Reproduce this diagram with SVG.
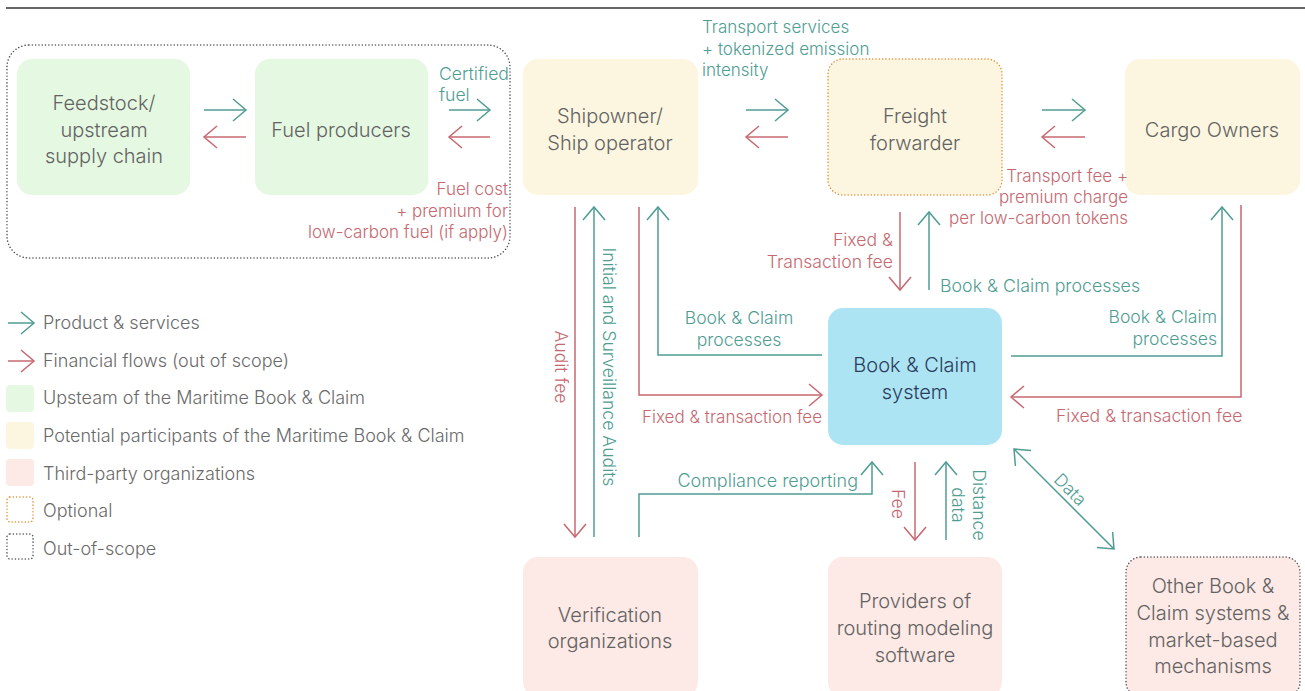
<svg xmlns="http://www.w3.org/2000/svg" width="1305" height="691" viewBox="0 0 1305 691">
<defs>
<style>
text{font-family:"Inter Light",Inter,"Noto Sans","Liberation Sans",sans-serif;font-weight:300}
.n{font-size:20px;fill:#636363;text-anchor:middle}
.nb{font-size:20px;fill:#2b3d5c;text-anchor:middle;font-weight:400}
.lt{font-size:17.6px;fill:#4f9d92}
.lr{font-size:17.6px;fill:#c66870}
.s17{font-size:17px}
.lg{font-size:18px;fill:#6a6a6a}
.g{fill:#e5f8e2}
.y{fill:#fcf6e0}
.p{fill:#fde9e5}
.b{fill:#ade4f4}
.ct{fill:none;stroke:#4f9d92;stroke-width:1.5}
.cr{fill:none;stroke:#c66870;stroke-width:1.5}
.ot{marker-end:url(#ahT)}
.or{marker-end:url(#ahR)}
.dot{fill:none;stroke:#555;stroke-width:1.5;stroke-dasharray:0.1 3.2;stroke-linecap:round}
.doto{fill:none;stroke:#e0913a;stroke-width:1.5;stroke-dasharray:0.1 3.2;stroke-linecap:round}
</style>
<marker id="ahT" markerUnits="userSpaceOnUse" markerWidth="16" markerHeight="26" refX="14" refY="12" orient="auto-start-reverse" viewBox="0 0 16 26"><path d="M1,1 L14,12 L1,23" fill="none" stroke="#4f9d92" stroke-width="1.5"/></marker>
<marker id="ahR" markerUnits="userSpaceOnUse" markerWidth="16" markerHeight="26" refX="14" refY="12" orient="auto-start-reverse" viewBox="0 0 16 26"><path d="M1,1 L14,12 L1,23" fill="none" stroke="#c66870" stroke-width="1.5"/></marker>
</defs>
<rect width="1305" height="691" fill="#fff"/>
<line x1="6" y1="8" x2="1305" y2="8" stroke="#333" stroke-width="1.5"/>
<rect x="7" y="45" width="503" height="213" rx="22" class="dot"/>

<g id="feedstock"><rect x="17" y="59" width="173" height="136" rx="15" class="g"/><text class="n"><tspan x="104" y="110">Feedstock/</tspan><tspan x="104" y="137">upstream</tspan><tspan x="104" y="163">supply chain</tspan></text></g>
<g id="fuel-producers"><rect x="255" y="59" width="173" height="136" rx="15" class="g"/><text class="n" x="341" y="137">Fuel producers</text></g>
<g id="shipowner"><rect x="523" y="59" width="175" height="136" rx="15" class="y"/><text class="n"><tspan x="610" y="123">Shipowner/</tspan><tspan x="610" y="150">Ship operator</tspan></text></g>
<g id="freight-forwarder"><rect x="828" y="59" width="174" height="136" rx="15" class="y"/><rect x="828" y="59" width="174" height="136" rx="15" class="doto"/><text class="n"><tspan x="915" y="123">Freight</tspan><tspan x="915" y="150">forwarder</tspan></text></g>
<g id="cargo-owners"><rect x="1125" y="59" width="175" height="136" rx="15" class="y"/><text class="n" x="1212" y="137">Cargo Owners</text></g>
<g id="book-claim"><rect x="828" y="308" width="174" height="137" rx="15" class="b"/><text class="nb"><tspan x="915" y="372">Book &amp; Claim</tspan><tspan x="915" y="399">system</tspan></text></g>
<g id="verification"><rect x="523" y="557" width="175" height="140" rx="15" class="p"/><text class="n"><tspan x="610" y="622">Verification</tspan><tspan x="610" y="648">organizations</tspan></text></g>
<g id="routing-providers"><rect x="828" y="557" width="174" height="140" rx="15" class="p"/><text class="n"><tspan x="915" y="608">Providers of</tspan><tspan x="915" y="635">routing modeling</tspan><tspan x="915" y="662">software</tspan></text></g>
<g id="other-systems"><rect x="1126" y="557" width="174" height="140" rx="15" class="p"/><rect x="1126" y="557" width="174" height="140" rx="15" class="dot"/><text class="n"><tspan x="1213" y="593">Other Book &amp;</tspan><tspan x="1213" y="620">Claim systems &amp;</tspan><tspan x="1213" y="647">market-based</tspan><tspan x="1213" y="673">mechanisms</tspan></text></g>

<g id="connectors">
<path class="ct ot" d="M204,110 H246"/>
<path class="cr or" d="M246,137 H204"/>
<path class="ct ot" d="M449,110 H490"/>
<path class="cr or" d="M490,137 H449"/>
<path class="ct ot" d="M746,110 H788"/>
<path class="cr or" d="M788,137 H746"/>
<path class="ct ot" d="M1042,110 H1085"/>
<path class="cr or" d="M1085,137 H1042"/>
<path class="cr or" d="M575,207 V537"/>
<path class="ct ot" d="M594,537 V207"/>
<path class="cr or" d="M639,207 V395 H822"/>
<path class="ct ot" d="M822,355 H658 V207"/>
<path class="cr or" d="M900,212 V290"/>
<path class="ct ot" d="M929,290 V212"/>
<path class="ct ot" d="M1011,356 H1222 V207"/>
<path class="cr or" d="M1241,205 V397 H1011"/>
<path class="ct ot" d="M639,537 V494 H872 V462"/>
<path class="cr or" d="M915,462 V540"/>
<path class="ct ot" d="M946,540 V462"/>
<path class="ct ot" d="M1014,449 L1114,549" marker-start="url(#ahT)"/>
</g>

<g id="labels">
<text class="lt"><tspan x="439" y="80">Certified</tspan><tspan x="439" y="101">fuel</tspan></text>
<text class="lr s17" text-anchor="end"><tspan x="508" y="195">Fuel cost</tspan><tspan x="508" y="217">+ premium for</tspan><tspan x="508" y="238">low-carbon fuel (if apply)</tspan></text>
<text class="lt s17"><tspan x="702" y="33">Transport services</tspan><tspan x="702" y="55">+ tokenized emission</tspan><tspan x="702" y="76">intensity</tspan></text>
<text class="lr s17" text-anchor="end"><tspan x="1128" y="182">Transport fee +</tspan><tspan x="1128" y="203">premium charge</tspan><tspan x="1128" y="224">per low-carbon tokens</tspan></text>
<text class="lr" transform="rotate(90 555 367)" x="555" y="367" text-anchor="middle">Audit fee</text>
<text class="lt" transform="rotate(90 603 367)" x="603" y="367" text-anchor="middle">Initial and Surveillance Audits</text>
<text class="lt" text-anchor="middle"><tspan x="739" y="324">Book &amp; Claim</tspan><tspan x="739" y="346">processes</tspan></text>
<text class="lr s17" x="642" y="423">Fixed &amp; transaction fee</text>
<text class="lr" text-anchor="end"><tspan x="893" y="246">Fixed &amp;</tspan><tspan x="893" y="268">Transaction fee</tspan></text>
<text class="lt" x="940" y="292" style="font-size:17.8px">Book &amp; Claim processes</text>
<text class="lt" text-anchor="end"><tspan x="1217" y="323">Book &amp; Claim</tspan><tspan x="1217" y="345">processes</tspan></text>
<text class="lr" x="1056" y="422">Fixed &amp; transaction fee</text>
<text class="lt" text-anchor="end" x="858" y="487" style="font-size:18px">Compliance reporting</text>
<text class="lr" transform="rotate(90 892 504)" x="892" y="504" text-anchor="middle">Fee</text>
<text class="lt" transform="rotate(90 973 505)" text-anchor="middle"><tspan x="973" y="505">Distance</tspan><tspan x="973" y="526">data</tspan></text>
<text class="lt" transform="rotate(45 1066 494)" x="1066" y="494" text-anchor="middle">Data</text>
</g>

<g id="legend">
<path class="ct ot" d="M8,323 H34"/>
<text class="lg" x="43" y="329">Product &amp; services</text>
<path class="cr or" d="M8,361 H34"/>
<text class="lg" x="43" y="367">Financial flows (out of scope)</text>
<rect x="6" y="385" width="28" height="27" rx="4" class="g"/>
<text class="lg" x="43" y="404">Upsteam of the Maritime Book &amp; Claim</text>
<rect x="6" y="422" width="28" height="27" rx="4" class="y"/>
<text class="lg" x="43" y="442">Potential participants of the Maritime Book &amp; Claim</text>
<rect x="6" y="459" width="28" height="27" rx="4" class="p"/>
<text class="lg" x="43" y="480">Third-party organizations</text>
<rect x="7" y="497" width="26" height="25" rx="3" class="doto"/>
<text class="lg" x="43" y="517">Optional</text>
<rect x="7" y="534" width="26" height="25" rx="3" class="dot"/>
<text class="lg" x="43" y="555">Out-of-scope</text>
</g>
</svg>
